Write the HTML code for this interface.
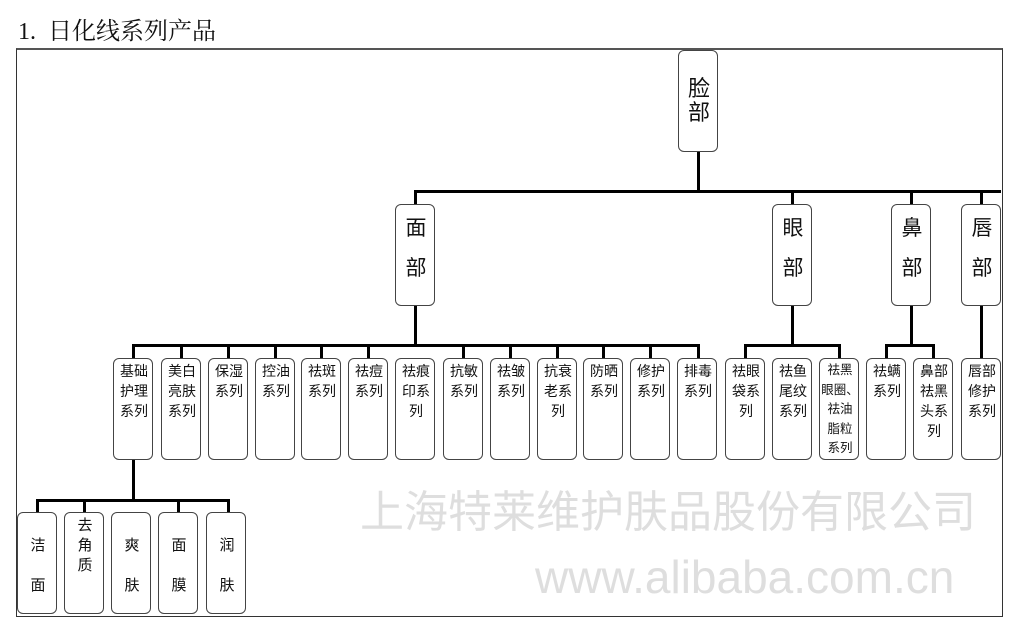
<!DOCTYPE html>
<html><head><meta charset="utf-8"><style>
body{margin:0;width:1024px;height:630px;background:#fff;position:relative;overflow:hidden;font-family:"Liberation Sans","Noto Sans CJK SC",sans-serif;}
.b{position:absolute;width:38px;height:100px;border:1.3px solid #444;border-radius:6px;background:#fff;box-sizing:content-box;}
.t{position:absolute;left:0;width:40px;text-align:center;font-size:14px;line-height:20px;color:#111;}
.h{position:absolute;background:#000;height:3px;}
.v{position:absolute;background:#000;width:3px;}
.big{font-size:21px;line-height:20px;}
.wm{position:absolute;color:#dedede;white-space:nowrap;}
</style></head><body>
<div style="position:absolute;left:18px;top:11px;font-size:24px;color:#111;font-family:'Liberation Serif','Noto Serif CJK SC',serif;">1.&nbsp; 日化线系列产品</div>
<!-- frame -->
<div style="position:absolute;left:16px;top:48px;width:985px;height:566px;border-top:2px solid #555;border-left:1px solid #333;border-right:1px solid #333;border-bottom:1px solid #333;"></div>
<div class="wm" style="left:360px;top:476px;font-size:44px;letter-spacing:0px;">上海特莱维护肤品股份有限公司</div>
<div class="wm" style="left:535px;top:550px;font-size:46px;">www.alibaba.com.cn</div>
<!-- connectors -->
<div class="v" style="left:697px;top:152px;height:40px"></div>
<div class="h" style="left:414px;top:190px;width:587px"></div>
<div class="v" style="left:414px;top:190px;height:14px"></div>
<div class="v" style="left:791px;top:190px;height:14px"></div>
<div class="v" style="left:910px;top:190px;height:14px"></div>
<div class="v" style="left:980px;top:190px;height:14px"></div>
<div class="v" style="left:414px;top:306px;height:40px"></div>
<div class="v" style="left:791px;top:306px;height:40px"></div>
<div class="v" style="left:910px;top:306px;height:40px"></div>
<div class="v" style="left:980px;top:306px;height:52px"></div>
<div class="h" style="left:132px;top:344px;width:568px"></div>
<div class="h" style="left:744px;top:344px;width:97px"></div>
<div class="h" style="left:885px;top:344px;width:50px"></div>
<div class="v" style="left:132px;top:344px;height:14px"></div>
<div class="v" style="left:180px;top:344px;height:14px"></div>
<div class="v" style="left:227px;top:344px;height:14px"></div>
<div class="v" style="left:274px;top:344px;height:14px"></div>
<div class="v" style="left:320px;top:344px;height:14px"></div>
<div class="v" style="left:367px;top:344px;height:14px"></div>
<div class="v" style="left:462px;top:344px;height:14px"></div>
<div class="v" style="left:509px;top:344px;height:14px"></div>
<div class="v" style="left:556px;top:344px;height:14px"></div>
<div class="v" style="left:602px;top:344px;height:14px"></div>
<div class="v" style="left:649px;top:344px;height:14px"></div>
<div class="v" style="left:697px;top:344px;height:14px"></div>
<div class="v" style="left:744px;top:344px;height:14px"></div>
<div class="v" style="left:838px;top:344px;height:14px"></div>
<div class="v" style="left:885px;top:344px;height:14px"></div>
<div class="v" style="left:932px;top:344px;height:14px"></div>
<div class="v" style="left:132px;top:460px;height:41px"></div>
<div class="h" style="left:36px;top:499px;width:194px"></div>
<div class="v" style="left:36px;top:499px;height:13px"></div>
<div class="v" style="left:83px;top:499px;height:13px"></div>
<div class="v" style="left:177px;top:499px;height:13px"></div>
<div class="v" style="left:227px;top:499px;height:13px"></div>
<!-- root -->
<div class="b" style="left:678px;top:50px"><div class="t" style="top:26px;font-size:22px;line-height:24px">脸<br>部</div></div>
<!-- level 2 -->
<div class="b" style="left:395px;top:204px"><div class="t big" style="top:14px">面<br><br>部</div></div>
<div class="b" style="left:772px;top:204px"><div class="t big" style="top:14px">眼<br><br>部</div></div>
<div class="b" style="left:891px;top:204px"><div class="t big" style="top:14px">鼻<br><br>部</div></div>
<div class="b" style="left:961px;top:204px"><div class="t big" style="top:14px">唇<br><br>部</div></div>
<!-- level 3 -->
<div class="b" style="left:113px;top:358px"><div class="t" style="top:2px">基础<br>护理<br>系列</div></div>
<div class="b" style="left:161px;top:358px"><div class="t" style="top:2px">美白<br>亮肤<br>系列</div></div>
<div class="b" style="left:208px;top:358px"><div class="t" style="top:2px">保湿<br>系列</div></div>
<div class="b" style="left:255px;top:358px"><div class="t" style="top:2px">控油<br>系列</div></div>
<div class="b" style="left:301px;top:358px"><div class="t" style="top:2px">祛斑<br>系列</div></div>
<div class="b" style="left:348px;top:358px"><div class="t" style="top:2px">祛痘<br>系列</div></div>
<div class="b" style="left:395px;top:358px"><div class="t" style="top:2px">祛痕<br>印系<br>列</div></div>
<div class="b" style="left:443px;top:358px"><div class="t" style="top:2px">抗敏<br>系列</div></div>
<div class="b" style="left:490px;top:358px"><div class="t" style="top:2px">祛皱<br>系列</div></div>
<div class="b" style="left:537px;top:358px"><div class="t" style="top:2px">抗衰<br>老系<br>列</div></div>
<div class="b" style="left:583px;top:358px"><div class="t" style="top:2px">防晒<br>系列</div></div>
<div class="b" style="left:630px;top:358px"><div class="t" style="top:2px">修护<br>系列</div></div>
<div class="b" style="left:677px;top:358px"><div class="t" style="top:2px">排毒<br>系列</div></div>
<div class="b" style="left:725px;top:358px"><div class="t" style="top:2px">祛眼<br>袋系<br>列</div></div>
<div class="b" style="left:772px;top:358px"><div class="t" style="top:2px">祛鱼<br>尾纹<br>系列</div></div>
<div class="b" style="left:819px;top:358px"><div class="t" style="top:2px;font-size:12.5px;line-height:19.5px">祛黑<br>眼圈、<br>祛油<br>脂粒<br>系列</div></div>
<div class="b" style="left:866px;top:358px"><div class="t" style="top:2px">祛螨<br>系列</div></div>
<div class="b" style="left:913px;top:358px"><div class="t" style="top:2px">鼻部<br>祛黑<br>头系<br>列</div></div>
<div class="b" style="left:961px;top:358px"><div class="t" style="top:2px">唇部<br>修护<br>系列</div></div>
<!-- level 4 -->
<div class="b" style="left:17px;top:512px"><div class="t" style="top:13px;line-height:40px;font-size:15px">洁<br>面</div></div>
<div class="b" style="left:64px;top:512px"><div class="t" style="top:3px;font-size:15px">去<br>角<br>质</div></div>
<div class="b" style="left:111px;top:512px"><div class="t" style="top:13px;line-height:40px;font-size:15px">爽<br>肤</div></div>
<div class="b" style="left:158px;top:512px"><div class="t" style="top:13px;line-height:40px;font-size:15px">面<br>膜</div></div>
<div class="b" style="left:206px;top:512px"><div class="t" style="top:13px;line-height:40px;font-size:15px">润<br>肤</div></div>
</body></html>
